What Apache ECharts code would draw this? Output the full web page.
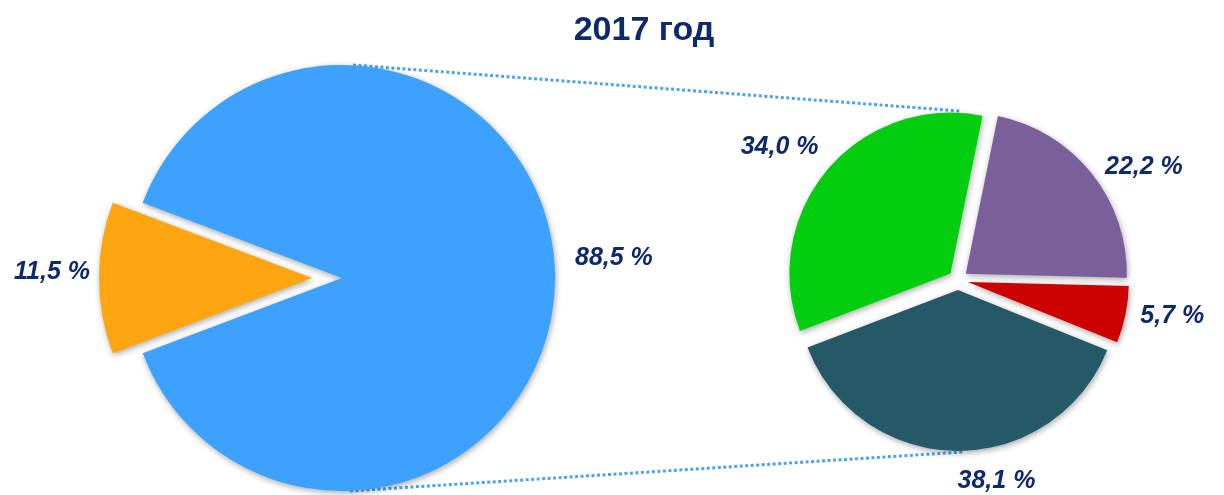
<!DOCTYPE html>
<html>
<head>
<meta charset="utf-8">
<title>2017 год</title>
<script src="https://cdn.jsdelivr.net/npm/echarts@6/dist/echarts.min.js"></script>
<style>
  html, body { margin: 0; padding: 0; background: #fff; }
  #chart { width: 1224px; height: 495px; }
</style>
</head>
<body>
<div id="chart"></div>
<script>
// данные
const mainNames = ['Доля 2', 'Доля 1'];
const mainValues = [11.5, 88.5];
const mainColors = ['#FFA511', '#3DA2FE'];

const subNames = ['Часть A', 'Часть B', 'Часть C', 'Часть D'];
const subValues = [22.2, 5.7, 38.1, 34.0];
const subColors = ['#7A5F9B', '#CC0000', '#255968', '#03CD0F'];

// геометрия
const leftCenter = [342, 278];
const leftRadius = 213;
const rightCenter = [958, 280];
const rightRadius = 161;
const rightOffset = 10;

const labelColor = '#0E2A6C';

// формат: 88,5 %
const fmt = (v) => v.toFixed(1).replace('.', ',') + ' %';

// сдвиги подписей (как в исходнике)
const leftLabelShift = [[6, -6], [5, -20]];
const rightLabelShift = [[2, -1], [2, 0], [84, 22], [2, -17]];

const chart = echarts.init(document.getElementById('chart'));

const labelStyle = {
  show: true,
  position: 'outside',
  color: labelColor,
  fontFamily: 'Liberation Sans, Arial, sans-serif',
  fontSize: 25,
  fontWeight: 'bold',
  fontStyle: 'italic',
  formatter: (p) => fmt(p.value)
};

const sliceShadow = {
  shadowBlur: 6,
  shadowOffsetX: 1,
  shadowOffsetY: 2,
  shadowColor: 'rgba(0,0,0,0.35)'
};

// стартовый угол: оранжевый сектор по центру слева
const orangeAngle = mainValues[0] / 100 * 360;
const leftStart = 180 + orangeAngle / 2;

const option = {
  animation: false,
  title: {
    text: '2017 год',
    left: 639,
    top: 9,
    textAlign: 'center',
    textStyle: {
      color: labelColor,
      fontFamily: 'Liberation Sans, Arial, sans-serif',
      fontSize: 34,
      fontWeight: 'bold'
    }
  },
  series: [
    {
      type: 'pie',
      center: leftCenter,
      radius: leftRadius,
      startAngle: leftStart,
      clockwise: true,
      selectedMode: 'multiple',
      selectedOffset: 30,
      label: labelStyle,
      labelLine: { show: false, length: 10, length2: 0 },
      labelLayout: (p) => ({ dx: leftLabelShift[p.dataIndex][0], dy: leftLabelShift[p.dataIndex][1] }),
      emphasis: { disabled: true },
      data: mainValues.map((v, i) => ({
        name: mainNames[i],
        value: v,
        selected: i === 0,
        itemStyle: Object.assign({ color: mainColors[i] }, sliceShadow)
      }))
    },
    {
      type: 'pie',
      center: rightCenter,
      radius: rightRadius,
      startAngle: 78.5,
      clockwise: true,
      selectedMode: 'multiple',
      selectedOffset: rightOffset,
      label: labelStyle,
      labelLine: { show: false, length: 8, length2: 0 },
      labelLayout: (p) => ({ dx: rightLabelShift[p.dataIndex][0], dy: rightLabelShift[p.dataIndex][1] }),
      emphasis: { disabled: true },
      data: subValues.map((v, i) => ({
        name: subNames[i],
        value: v,
        selected: true,
        itemStyle: Object.assign({ color: subColors[i] }, sliceShadow)
      }))
    }
  ],
  // пунктирные линии-выноски от большого круга к малому
  graphic: [
    {
      type: 'line',
      z: -1,
      shape: {
        x1: leftCenter[0] + 11, y1: leftCenter[1] - leftRadius,
        x2: rightCenter[0] + 2, y2: rightCenter[1] - rightRadius - 8
      },
      style: { stroke: '#4EA3EA', lineWidth: 3, lineDash: [3, 2.5] }
    },
    {
      type: 'line',
      z: -1,
      shape: {
        x1: leftCenter[0] + 8, y1: leftCenter[1] + leftRadius,
        x2: rightCenter[0] + 5, y2: rightCenter[1] + rightRadius + rightOffset + 1
      },
      style: { stroke: '#4EA3EA', lineWidth: 3, lineDash: [3, 2.5] }
    }
  ]
};

chart.setOption(option);
</script>
</body>
</html>
